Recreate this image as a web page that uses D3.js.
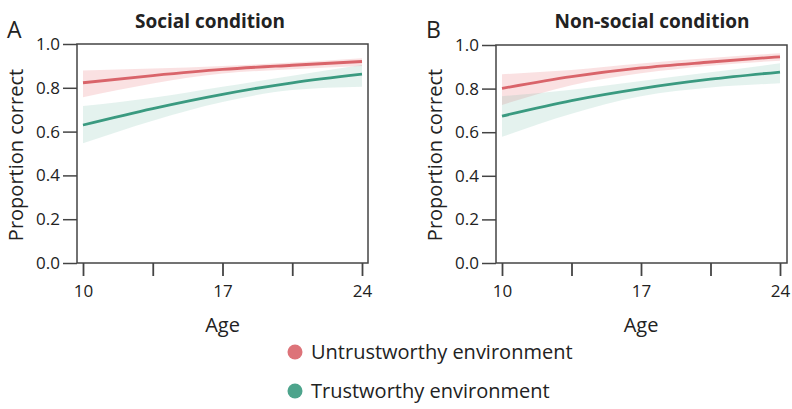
<!DOCTYPE html>
<html><head><meta charset="utf-8">
<script src="https://cdn.jsdelivr.net/npm/d3@7"></script>
<style>body{margin:0;background:#fff}svg{display:block}text{font-family:"Open Sans","Liberation Sans",sans-serif;fill:#222}</style>
</head><body>
<script>
const ages = [10, 13.5, 17, 20.5, 24];
const xTicks = [10, 13.5, 17, 20.5, 24];
const xTickLabels = ["10", "", "17", "", "24"];
const yTicks = [0, 0.2, 0.4, 0.6, 0.8, 1.0];
const panels = ["Social condition", "Non-social condition"];
const panelLetters = ["A", "B"];
const seriesNames = ["Untrustworthy environment", "Trustworthy environment"];

// Panel A
const socialUntrust = [0.823, 0.856, 0.884, 0.903, 0.920];
const socialUntrustLo = [0.757, 0.820, 0.865, 0.885, 0.900];
const socialUntrustHi = [0.879, 0.888, 0.900, 0.915, 0.935];
const socialTrust = [0.630, 0.705, 0.770, 0.823, 0.862];
const socialTrustLo = [0.547, 0.650, 0.735, 0.790, 0.805];
const socialTrustHi = [0.717, 0.755, 0.805, 0.855, 0.904];
// Panel B
const nonsocialUntrust = [0.801, 0.855, 0.895, 0.922, 0.946];
const nonsocialUntrustLo = [0.725, 0.815, 0.870, 0.905, 0.928];
const nonsocialUntrustHi = [0.866, 0.885, 0.915, 0.940, 0.962];
const nonsocialTrust = [0.674, 0.745, 0.800, 0.843, 0.876];
const nonsocialTrustLo = [0.579, 0.685, 0.765, 0.805, 0.824];
const nonsocialTrustHi = [0.765, 0.795, 0.835, 0.875, 0.916];

const lineColors = ["#d9646a", "#3a9a80"];
const bandColors = ["rgba(232,120,125,0.22)", "rgba(110,185,165,0.19)"];

const panelData = [
  [{m: socialUntrust, lo: socialUntrustLo, hi: socialUntrustHi}, {m: socialTrust, lo: socialTrustLo, hi: socialTrustHi}],
  [{m: nonsocialUntrust, lo: nonsocialUntrustLo, hi: nonsocialUntrustHi}, {m: nonsocialTrust, lo: nonsocialTrustLo, hi: nonsocialTrustHi}]
];

const svg = d3.select("body").append("svg").attr("width", 792).attr("height", 409);

const layouts = [
  {left: 77, right: 368, top: 44, bottom: 263, x0: 83, x1: 362, letterX: 7, titleX: 210, ylabX: 16},
  {left: 496, right: 787, top: 45, bottom: 263, x0: 502, x1: 780, letterX: 426, titleX: 652, ylabX: 435}
];

layouts.forEach((L, pi) => {
  const x = d3.scaleLinear().domain([10, 24]).range([L.x0, L.x1]);
  const y = d3.scaleLinear().domain([0, 1]).range([L.bottom, L.top]);
  const g = svg.append("g");

  panelData[pi].forEach((s, si) => {
    const pts = ages.map((a, i) => ({a, m: s.m[i], lo: s.lo[i], hi: s.hi[i]}));
    g.append("path").datum(pts)
      .attr("d", d3.area().x(d => x(d.a)).y0(d => y(d.lo)).y1(d => y(d.hi)).curve(d3.curveMonotoneX))
      .attr("fill", bandColors[si]);
  });
  panelData[pi].forEach((s, si) => {
    const pts = ages.map((a, i) => ({a, m: s.m[i]}));
    g.append("path").datum(pts)
      .attr("d", d3.line().x(d => x(d.a)).y(d => y(d.m)).curve(d3.curveMonotoneX))
      .attr("fill", "none").attr("stroke", lineColors[si]).attr("stroke-width", 2.8);
  });

  g.append("rect").attr("x", L.left).attr("y", L.top).attr("width", L.right - L.left).attr("height", L.bottom - L.top)
    .attr("fill", "none").attr("stroke", "#444").attr("stroke-width", 1.5);

  const yAxis = g.append("g").attr("transform", `translate(${L.left},0)`)
    .call(d3.axisLeft(y).tickValues(yTicks).tickFormat(d3.format(".1f")).tickSize(14).tickPadding(3));
  yAxis.select(".domain").remove();
  yAxis.selectAll("line").attr("stroke", "#444").attr("stroke-width", 1.5);
  yAxis.selectAll("text").style("font-size", "17px").attr("fill", "#222");

  const xAxis = g.append("g").attr("transform", `translate(0,${L.bottom})`)
    .call(d3.axisBottom(x).tickValues(xTicks).tickFormat((d, i) => xTickLabels[i]).tickSize(13).tickPadding(9));
  xAxis.select(".domain").remove();
  xAxis.selectAll("line").attr("stroke", "#444").attr("stroke-width", 1.8);
  xAxis.selectAll("text").style("font-size", "17px").attr("fill", "#222");

  g.append("text").attr("x", (L.x0 + L.x1) / 2).attr("y", 332).attr("text-anchor", "middle")
    .style("font-size", "20px").text("Age");
  g.append("text").attr("transform", `translate(${L.ylabX},155) rotate(-90)`)
    .attr("text-anchor", "middle").attr("dy", "0.35em").style("font-size", "20px").text("Proportion correct");
  g.append("text").attr("x", L.titleX).attr("y", 28).attr("text-anchor", "middle")
    .style("font-size", "19px").style("font-weight", "bold").text(panels[pi]);
  g.append("text").attr("x", L.letterX).attr("y", 38).style("font-size", "23px").text(panelLetters[pi]);
});

const leg = svg.append("g");
seriesNames.forEach((n, i) => {
  const yy = 352 + i * 39;
  leg.append("circle").attr("cx", 295).attr("cy", yy).attr("r", 7.5).attr("fill", lineColors[i]).attr("opacity", 0.9);
  leg.append("text").attr("x", 311).attr("y", yy).attr("dy", "0.35em").style("font-size", "20px").text(n);
});
</script>
</body></html>
